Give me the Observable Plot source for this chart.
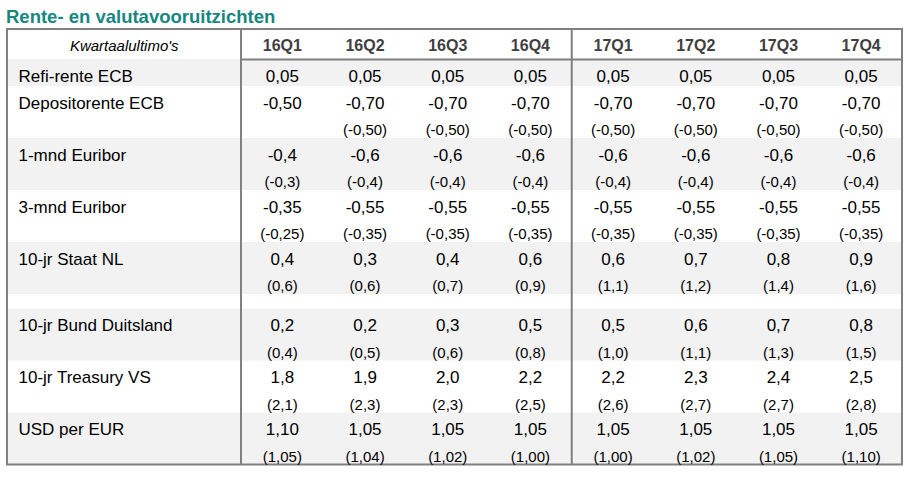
<!DOCTYPE html>
<html><head><meta charset="utf-8">
<script src="https://cdn.jsdelivr.net/npm/d3@7"></script>
<script src="https://cdn.jsdelivr.net/npm/@observablehq/plot@0.6"></script>
<style>
body{margin:0;background:#fff;}
#title{height:28px;box-sizing:border-box;padding:7.5px 0 0 6px;font:bold 18.5px "Liberation Sans",Arial,sans-serif;line-height:18px;color:#16877f;white-space:nowrap;}
</style></head><body>
<div id="title">Rente- en valutavooruitzichten</div>
<div id="chart"></div>
<script>
// ---- data ----
const headerLabel = "Kwartaalultimo's";
const quarters = ["16Q1","16Q2","16Q3","16Q4","17Q1","17Q2","17Q3","17Q4"];
const rowLabels = ["Refi-rente ECB","Depositorente ECB","1-mnd Euribor","3-mnd Euribor","10-jr Staat NL","10-jr Bund Duitsland","10-jr Treasury VS","USD per EUR"];
const rowGroup = [0,0,0,0,0,1,1,1];
const decimals = [2,2,1,2,1,1,1,2];
const refiRente      = [0.05,0.05,0.05,0.05,0.05,0.05,0.05,0.05];
const depoRente      = [-0.50,-0.70,-0.70,-0.70,-0.70,-0.70,-0.70,-0.70];
const depoRentePrev  = [null,-0.50,-0.50,-0.50,-0.50,-0.50,-0.50,-0.50];
const euribor1m      = [-0.4,-0.6,-0.6,-0.6,-0.6,-0.6,-0.6,-0.6];
const euribor1mPrev  = [-0.3,-0.4,-0.4,-0.4,-0.4,-0.4,-0.4,-0.4];
const euribor3m      = [-0.35,-0.55,-0.55,-0.55,-0.55,-0.55,-0.55,-0.55];
const euribor3mPrev  = [-0.25,-0.35,-0.35,-0.35,-0.35,-0.35,-0.35,-0.35];
const staatNL10      = [0.4,0.3,0.4,0.6,0.6,0.7,0.8,0.9];
const staatNL10Prev  = [0.6,0.6,0.7,0.9,1.1,1.2,1.4,1.6];
const bundDE10       = [0.2,0.2,0.3,0.5,0.5,0.6,0.7,0.8];
const bundDE10Prev   = [0.4,0.5,0.6,0.8,1.0,1.1,1.3,1.5];
const treasuryVS10     = [1.8,1.9,2.0,2.2,2.2,2.3,2.4,2.5];
const treasuryVS10Prev = [2.1,2.3,2.3,2.5,2.6,2.7,2.7,2.8];
const usdPerEur      = [1.10,1.05,1.05,1.05,1.05,1.05,1.05,1.05];
const usdPerEurPrev  = [1.05,1.04,1.02,1.00,1.00,1.02,1.05,1.10];

const mainValues = [refiRente, depoRente, euribor1m, euribor3m, staatNL10, bundDE10, treasuryVS10, usdPerEur];
const prevValues = [null, depoRentePrev, euribor1mPrev, euribor3mPrev, staatNL10Prev, bundDE10Prev, treasuryVS10Prev, usdPerEurPrev];

// ---- layout (in SVG pixel units) ----
const W = 914, H = 451;
const LABEL_U = 233.5 / ((902 - 240.5) / 8); // label column width in quarter-column units
const tableTop = 1, headerH = 30, singleH = 27, doubleH = 52, gapH = 14.5;
const headerBottom = tableTop + headerH;
const fmt = (v, d) => v.toFixed(d).replace(".", ",");

const rows = [];
let y = headerBottom, grp = rowGroup[0], k = 0;
rowLabels.forEach((label, i) => {
  if (rowGroup[i] !== grp) { y += gapH; grp = rowGroup[i]; k = 0; }
  const h = prevValues[i] ? doubleH : singleH;
  rows.push({label, top: y, bottom: y + h, band: k % 2 === 0, i});
  y += h; k++;
});
const tableBottom = y;

const cells = [], subCells = [];
rows.forEach(r => {
  mainValues[r.i].forEach((v, q) => cells.push({x: q + 0.5, y: r.top + 17, text: fmt(v, decimals[r.i])}));
  if (prevValues[r.i]) prevValues[r.i].forEach((v, q) => {
    if (v != null) subCells.push({x: q + 0.5, y: r.top + 44, text: "(" + fmt(v, decimals[r.i]) + ")"});
  });
});

const FONT = "Liberation Sans, Arial, sans-serif";
const LINE = "#808080";

const chart = Plot.plot({
  width: W, height: H,
  margin: 0,
  style: {background: "#fff", fontFamily: FONT},
  x: {type: "linear", domain: [-LABEL_U, 8], range: [7, 902], axis: null},
  y: {type: "linear", domain: [0, H], range: [0, H], axis: null},
  marks: [
    Plot.rect(rows.filter(r => r.band), {x1: -LABEL_U, x2: 8, y1: "top", y2: "bottom", fill: "#f2f2f2"}),
    Plot.ruleX([0, 4], {y1: tableTop, y2: tableBottom, stroke: LINE, strokeWidth: 2}),
    Plot.ruleY([headerBottom], {x1: 0, x2: 8, stroke: LINE, strokeWidth: 2}),
    Plot.rect([0], {x1: -LABEL_U, x2: 8, y1: tableTop, y2: tableBottom, fill: "none", stroke: LINE, strokeWidth: 2}),
    Plot.text([headerLabel], {x: -LABEL_U / 2, y: tableTop + 16.5, text: d => d, fontStyle: "italic", fontSize: 15, fill: "#000", fontFamily: FONT}),
    Plot.text(quarters, {x: (d, i) => i + 0.5, y: tableTop + 16.5, text: d => d, fontWeight: "bold", fontSize: 16, fill: "#3f3f3f", fontFamily: FONT}),
    Plot.text(rows, {x: -LABEL_U + 11 / 82.7, y: r => r.top + 17, text: "label", textAnchor: "start", fontSize: 17, fill: "#000", fontFamily: FONT}),
    Plot.text(cells, {x: "x", y: "y", text: "text", fontSize: 17, fill: "#000", fontFamily: FONT}),
    Plot.text(subCells, {x: "x", y: "y", text: "text", fontSize: 15, fill: "#000", fontFamily: FONT})
  ]
});
document.getElementById("chart").appendChild(chart);
</script>
</body></html>
